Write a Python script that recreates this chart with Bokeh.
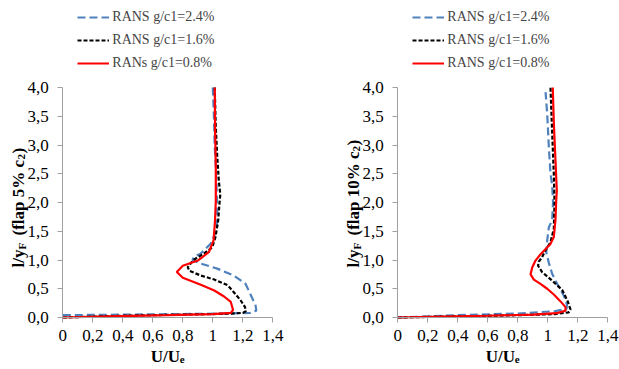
from bokeh.plotting import figure
from bokeh.layouts import row
from bokeh.models import Legend, LegendItem, Label, FixedTicker, Range1d
from bokeh.embed import file_html
from bokeh.resources import INLINE
import math

# ---------------- data ----------------
x_ticks = [0, 0.2, 0.4, 0.6, 0.8, 1.0, 1.2, 1.4]
x_tick_labels = ["0", "0,2", "0,4", "0,6", "0,8", "1", "1,2", "1,4"]
y_ticks = [0, 0.5, 1.0, 1.5, 2.0, 2.5, 3.0, 3.5, 4.0]
y_tick_labels = ["0,0", "0,5", "1,0", "1,5", "2,0", "2,5", "3,0", "3,5", "4,0"]

series_names_left = ["RANS g/c1=2.4%", "RANS g/c1=1.6%", "RANs g/c1=0.8%"]
series_names_right = ["RANS g/c1=2.4%", "RANS g/c1=1.6%", "RANS g/c1=0.8%"]

# flap 5% c2
left_blue_u = [0.0, 0.4, 0.8, 1.1, 1.25, 1.29, 1.285, 1.25, 1.218, 1.14, 1.03, 0.918, 0.865,
               0.873, 0.918, 0.985, 1.025, 1.03, 1.025, 1.018, 1.013, 1.007, 1.0]
left_blue_l = [0.04, 0.05, 0.06, 0.07, 0.08, 0.12, 0.21, 0.41, 0.586, 0.73, 0.85, 0.94, 1.0,
               1.05, 1.11, 1.28, 1.51, 1.80, 2.3, 2.73, 2.96, 3.54, 4.0]
left_black_u = [0.0, 0.4, 0.8, 1.1, 1.2, 1.22, 1.215, 1.185, 1.14, 1.10, 1.01, 0.92, 0.845,
                0.833, 0.87, 0.94, 0.996, 1.018, 1.036, 1.045, 1.05, 1.04, 1.03, 1.02, 1.013]
left_black_l = [0.0, 0.03, 0.05, 0.065, 0.08, 0.11, 0.18, 0.30, 0.44, 0.56, 0.66, 0.73, 0.81,
                0.875, 1.0, 1.11, 1.22, 1.40, 1.69, 2.0, 2.14, 2.38, 2.79, 3.3, 4.0]
left_red_u = [0.0, 0.3, 0.7, 1.0, 1.12, 1.135, 1.12, 1.075, 1.01, 0.92, 0.80, 0.76, 0.80,
              0.90, 0.975, 1.005, 1.015, 1.02, 1.02, 1.015, 1.013]
left_red_l = [0.0, 0.02, 0.04, 0.06, 0.08, 0.13, 0.27, 0.365, 0.47, 0.57, 0.69, 0.79, 0.90,
              0.99, 1.14, 1.34, 1.69, 2.03, 2.6, 3.3, 4.0]

# flap 10% c2
right_blue_u = [0.0, 0.4, 0.8, 1.05, 1.125, 1.128, 1.107, 1.062, 1.029, 1.007, 0.99, 0.996,
                1.007, 1.029, 1.035, 1.029, 1.018, 1.007, 0.996, 0.985]
right_blue_l = [0.0, 0.04, 0.07, 0.11, 0.15, 0.22, 0.38, 0.586, 0.76, 0.95, 1.13, 1.34,
                1.57, 1.69, 2.0, 2.3, 2.5, 2.96, 3.54, 3.92]
right_black_u = [0.0, 0.4, 0.8, 1.05, 1.14, 1.151, 1.133, 1.096, 1.025, 0.962, 0.935, 0.94,
                 0.962, 0.984, 1.018, 1.04, 1.045, 1.04, 1.033, 1.025, 1.018]
right_black_l = [0.0, 0.02, 0.04, 0.06, 0.09, 0.14, 0.28, 0.48, 0.65, 0.79, 0.90, 0.97,
                 1.05, 1.165, 1.31, 1.54, 2.0, 2.5, 2.96, 3.5, 4.0]
right_red_u = [0.0, 0.3, 0.6, 0.9, 1.06, 1.118, 1.118, 1.085, 1.04, 0.996, 0.951, 0.907,
               0.885, 0.896, 0.918, 0.955, 1.018, 1.04, 1.051, 1.056, 1.06, 1.05, 1.04, 1.033]
right_red_l = [0.0, 0.015, 0.03, 0.05, 0.075, 0.12, 0.18, 0.28, 0.40, 0.5, 0.586, 0.66,
               0.75, 0.87, 0.99, 1.11, 1.28, 1.40, 1.69, 2.03, 2.2, 2.8, 3.4, 4.0]

FONT = "Liberation Serif"
BLUE = "#4f81bd"
AXIS_GRAY = "#a0a0a0"

H = 369
PLOT_W, PLOT_H = 210.0, 230.0       # pixel extent of the 0..1.4 x 0..4 box
ORIGIN_Y = 317.0                   # canvas y of l = 0
PX_X = PLOT_W / 1.4
PX_Y = PLOT_H / 4.0


def add_text(p, x_px, y_px, text, size, angle=0.0, bold=True):
    """x_px, y_px: pixel offsets from the data origin (0, 0)."""
    p.add_layout(Label(x=x_px / PX_X, y=y_px / PX_Y, text=text, angle=angle,
                       text_font=FONT, text_font_size=f"{size}px",
                       text_font_style="bold" if bold else "normal",
                       text_align="left", text_baseline="alphabetic",
                       text_color="black"))


def make_panel(width, origin_x, series, names, flap_text, flap_w):
    xr = Range1d(-origin_x / PX_X, (width - origin_x) / PX_X)
    yr = Range1d(-(H - ORIGIN_Y) / PX_Y, ORIGIN_Y / PX_Y)
    p = figure(width=width, height=H, x_range=xr, y_range=yr,
               output_backend="svg", toolbar_location=None,
               min_border=0)
    p.outline_line_color = None
    p.grid.grid_line_color = None
    p.background_fill_color = "white"
    p.border_fill_color = "white"

    for ax, ticks, labels in ((p.xaxis[0], x_ticks, x_tick_labels),
                              (p.yaxis[0], y_ticks, y_tick_labels)):
        ax.ticker = FixedTicker(ticks=ticks)
        ax.major_label_overrides = {t: s for t, s in zip(ticks, labels)}
        ax.fixed_location = 0
        ax.bounds = (ticks[0], ticks[-1])
        ax.axis_line_color = AXIS_GRAY
        ax.major_tick_line_color = AXIS_GRAY
        ax.minor_tick_line_color = None
        ax.major_tick_in = 0
        ax.major_tick_out = 5
        ax.major_label_text_font = FONT
        ax.major_label_text_font_size = "17px"
        ax.major_label_text_color = "black"
    p.yaxis[0].major_label_standoff = 9
    p.xaxis[0].major_label_standoff = 7

    (bu, bl), (ku, kl), (ru, rl) = series
    rb = p.line(bu, bl, line_color=BLUE, line_width=2.2, line_dash="8 4")
    rk = p.line(ku, kl, line_color="black", line_width=2.2, line_dash="4 2")
    rr = p.line(ru, rl, line_color="#ff0000", line_width=2.2)

    legend_left = origin_x + 15
    legend = Legend(items=[LegendItem(label=names[0], renderers=[rb]),
                           LegendItem(label=names[1], renderers=[rk]),
                           LegendItem(label=names[2], renderers=[rr])],
                    location=(legend_left, H - 73))
    legend.background_fill_alpha = 0
    legend.border_line_alpha = 0
    legend.padding = 0
    legend.margin = 0
    legend.spacing = 3
    legend.label_height = 20
    legend.glyph_height = 20
    legend.glyph_width = 32
    legend.label_standoff = 3
    legend.label_text_font = FONT
    legend.label_text_font_size = "14px"
    p.add_layout(legend)

    # x axis title: U/U_e
    xb = -39
    add_text(p, PLOT_W / 2 - 17, xb, "U/U", 17)
    add_text(p, PLOT_W / 2 + 12, xb - 3, "e", 11)

    # y axis title (rotated): l/y_F  (flap x% c_2)
    xb = -44
    y0 = PLOT_H / 2 - 65
    rot = math.pi / 2
    add_text(p, xb, y0, "l/y", 17, rot)
    add_text(p, xb + 3, y0 + 18, "F", 11, rot)
    add_text(p, xb, y0 + 32, flap_text, 17, rot)
    add_text(p, xb + 3, y0 + 32 + flap_w, "2", 11, rot)
    add_text(p, xb, y0 + 32 + flap_w + 6, ")", 17, rot)
    return p


p1 = make_panel(310, 62.3,
                ((left_blue_u, left_blue_l), (left_black_u, left_black_l),
                 (left_red_u, left_red_l)),
                series_names_left, "(flap 5% c", 76)
p2 = make_panel(309, 87.3,
                ((right_blue_u, right_blue_l), (right_black_u, right_black_l),
                 (right_red_u, right_red_l)),
                series_names_right, "(flap 10% c", 84)

layout = row(p1, p2)
open("out.html", "w").write(file_html(layout, INLINE))
